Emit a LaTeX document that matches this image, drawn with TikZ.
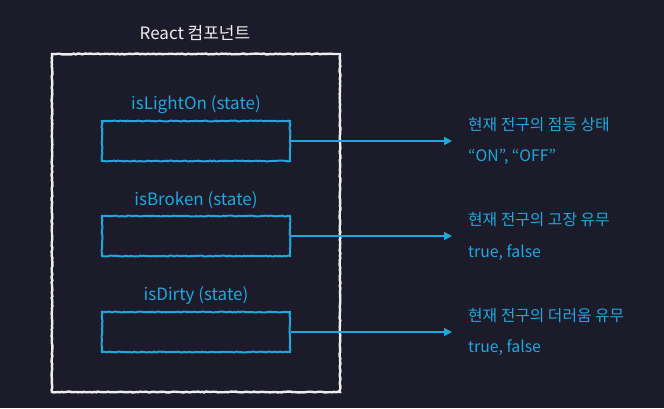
\documentclass[tikz,border=0pt]{standalone}
\usepackage{fontspec}
\setmainfont{Noto Sans CJK KR}
\usetikzlibrary{arrows.meta,positioning,decorations.pathmorphing}
\definecolor{bgdark}{HTML}{1C1B29}
\definecolor{stateblue}{HTML}{1EA8E0}
\definecolor{chalk}{HTML}{EDEDED}
\tikzset{
  rough/.style = {decorate, decoration={random steps, segment length=2pt,
    amplitude=0.45pt}},
  component/.style = {draw=chalk, line width=2.4pt, rough, inner sep=0pt,
    minimum width=288pt, minimum height=338pt},% React 컴포넌트 틀
  statebox/.style = {draw=stateblue, line width=2pt, rough, inner sep=0pt,
    minimum width=188pt, minimum height=40pt},% state 상자
  statelabel/.style = {text=stateblue, inner sep=0pt,
    font=\fontsize{17}{20}\selectfont},
  desc/.style = {text=stateblue, anchor=west, inner sep=0pt,
    font=\fontsize{15.8}{19}\selectfont},
  link/.style = {draw=stateblue, line width=1.6pt,
    -{Triangle[length=8pt,width=8pt]}}
}
\begin{document}
\begin{tikzpicture}[x=1pt,y=-1pt]
\fill[bgdark] (0,0) rectangle (664,408);
\useasboundingbox (0,0) rectangle (664,408);

\node [component] (comp) at (196,223) {};
\node [text=chalk, font=\fontsize{17}{20}\selectfont] (title) at (195,33) {React 컴포넌트};

% state 상자
\node [statebox] (light) at (196,141) {};
\node [statebox] (broken) at (196,236) {};
\node [statebox] (dirty) at (196,332) {};
\node [statelabel, above=6pt of light] (lightlbl) {isLightOn (state)};
\node [statelabel, above=6pt of broken] (brokenlbl) {isBroken (state)};
\node [statelabel, above=6pt of dirty] (dirtylbl) {isDirty (state)};

% 화살표
\coordinate (lighttip) at (452,141);
\coordinate (brokentip) at (452,236);
\coordinate (dirtytip) at (452,332);
\draw [link] (light.east) -- (lighttip);
\draw [link] (broken.east) -- (brokentip);
\draw [link] (dirty.east) -- (dirtytip);

% 설명
\node [desc] (lightdesc) at (468,125) {현재 전구의 점등 상태};
\node [desc] (lightval) at (468,157) {“ON”, “OFF”};
\node [desc] (brokendesc) at (468,220) {현재 전구의 고장 유무};
\node [desc] (brokenval) at (468,253) {true, false};
\node [desc] (dirtydesc) at (468,316) {현재 전구의 더러움 유무};
\node [desc] (dirtyval) at (468,348) {true, false};
\end{tikzpicture}
\end{document}
